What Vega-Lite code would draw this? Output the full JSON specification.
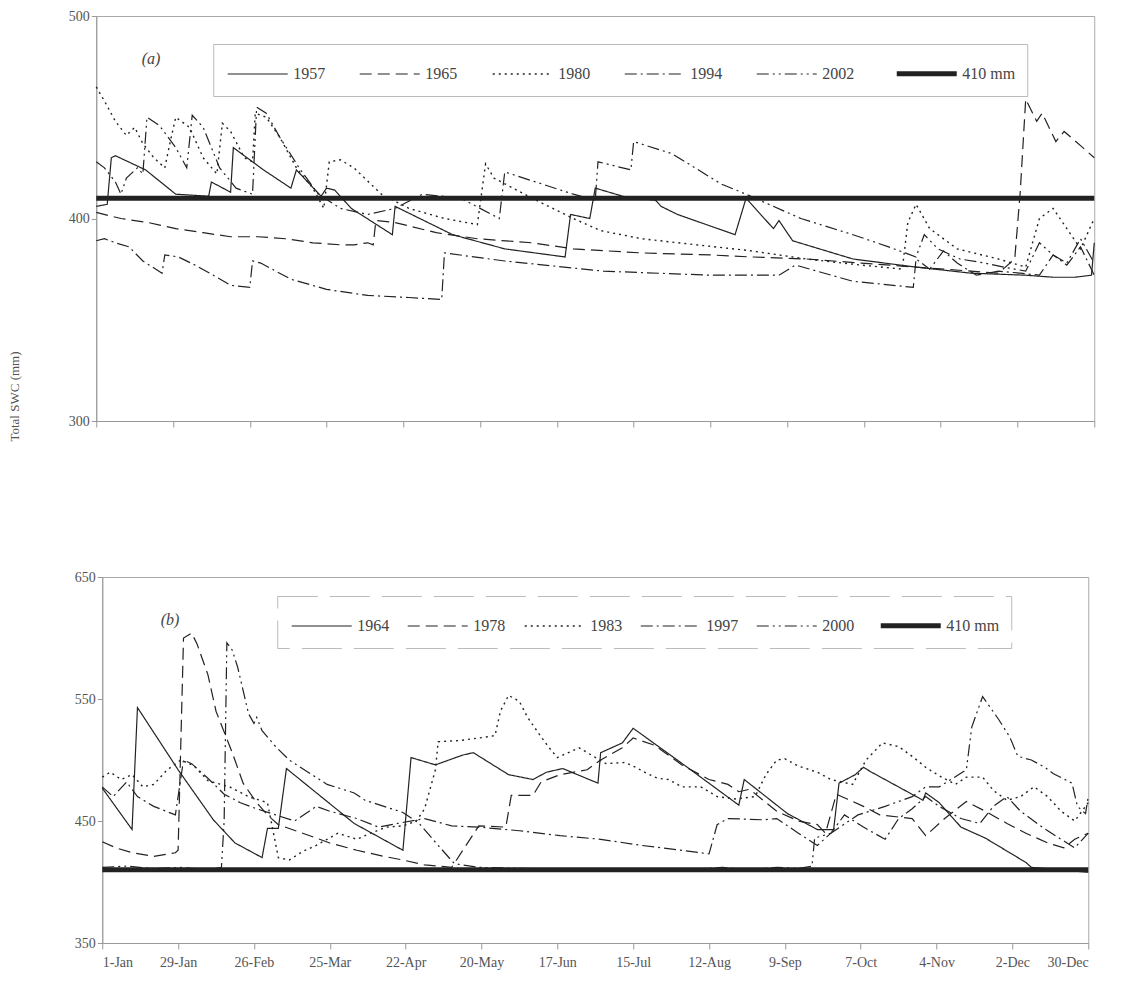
{
  "$schema": "https://vega.github.io/schema/vega-lite/v6.json",
  "background": "white",
  "padding": {"left": -38, "top": 8, "right": 5, "bottom": 5},
  "center": true,
  "spacing": 127,
  "datasets": {
    "a": [
      {"series":"1957","day":1,"swc":406},{"series":"1957","day":5,"swc":407},{"series":"1957","day":6.5,"swc":430},{"series":"1957","day":8,"swc":431},{"series":"1957","day":19,"swc":424},{"series":"1957","day":30,"swc":412},{"series":"1957","day":42,"swc":411},{"series":"1957","day":43,"swc":418},{"series":"1957","day":50,"swc":413},{"series":"1957","day":51,"swc":435},{"series":"1957","day":62,"swc":424},{"series":"1957","day":72,"swc":415},{"series":"1957","day":74,"swc":424},{"series":"1957","day":83,"swc":411},{"series":"1957","day":85,"swc":415},{"series":"1957","day":88,"swc":414},{"series":"1957","day":94,"swc":405},{"series":"1957","day":109,"swc":392},{"series":"1957","day":110,"swc":406},{"series":"1957","day":131,"swc":392},{"series":"1957","day":150,"swc":385},{"series":"1957","day":172,"swc":381},{"series":"1957","day":174,"swc":402},{"series":"1957","day":181,"swc":400},{"series":"1957","day":183,"swc":415},{"series":"1957","day":193,"swc":411},{"series":"1957","day":205,"swc":409},{"series":"1957","day":207,"swc":406},{"series":"1957","day":213,"swc":402},{"series":"1957","day":234,"swc":392},{"series":"1957","day":236,"swc":401},{"series":"1957","day":238,"swc":410},{"series":"1957","day":248,"swc":395},{"series":"1957","day":250,"swc":399},{"series":"1957","day":255,"swc":389},{"series":"1957","day":277,"swc":380},{"series":"1957","day":300,"swc":376},{"series":"1957","day":320,"swc":373},{"series":"1957","day":340,"swc":372},{"series":"1957","day":350,"swc":371},{"series":"1957","day":358,"swc":371},{"series":"1957","day":364,"swc":372},{"series":"1957","day":365,"swc":388},

      {"series":"1965","day":1,"swc":403},{"series":"1965","day":10,"swc":400},{"series":"1965","day":20,"swc":398},{"series":"1965","day":30,"swc":395},{"series":"1965","day":40,"swc":393},{"series":"1965","day":50,"swc":391},{"series":"1965","day":60,"swc":391},{"series":"1965","day":70,"swc":390},{"series":"1965","day":80,"swc":388},{"series":"1965","day":90,"swc":387},{"series":"1965","day":95,"swc":387},{"series":"1965","day":100,"swc":388},{"series":"1965","day":102,"swc":387},{"series":"1965","day":103,"swc":399},{"series":"1965","day":110,"swc":398},{"series":"1965","day":125,"swc":393},{"series":"1965","day":140,"swc":390},{"series":"1965","day":160,"swc":388},{"series":"1965","day":175,"swc":385},{"series":"1965","day":200,"swc":383},{"series":"1965","day":225,"swc":382},{"series":"1965","day":240,"swc":381},{"series":"1965","day":260,"swc":380},{"series":"1965","day":280,"swc":378},{"series":"1965","day":300,"swc":376},{"series":"1965","day":320,"swc":374},{"series":"1965","day":330,"swc":373},{"series":"1965","day":336,"swc":380},{"series":"1965","day":338,"swc":413},{"series":"1965","day":340,"swc":459},{"series":"1965","day":344,"swc":448},{"series":"1965","day":346,"swc":452},{"series":"1965","day":351,"swc":438},{"series":"1965","day":354,"swc":443},{"series":"1965","day":360,"swc":436},{"series":"1965","day":365,"swc":430},

      {"series":"1980","day":1,"swc":465},{"series":"1980","day":4,"swc":458},{"series":"1980","day":8,"swc":448},{"series":"1980","day":12,"swc":441},{"series":"1980","day":15,"swc":445},{"series":"1980","day":18,"swc":437},{"series":"1980","day":22,"swc":430},{"series":"1980","day":26,"swc":425},{"series":"1980","day":28,"swc":438},{"series":"1980","day":30,"swc":450},{"series":"1980","day":35,"swc":445},{"series":"1980","day":40,"swc":430},{"series":"1980","day":45,"swc":422},{"series":"1980","day":47,"swc":447},{"series":"1980","day":50,"swc":443},{"series":"1980","day":55,"swc":430},{"series":"1980","day":58,"swc":428},{"series":"1980","day":59,"swc":452},{"series":"1980","day":63,"swc":450},{"series":"1980","day":68,"swc":440},{"series":"1980","day":74,"swc":425},{"series":"1980","day":80,"swc":415},{"series":"1980","day":84,"swc":405},{"series":"1980","day":86,"swc":428},{"series":"1980","day":90,"swc":429},{"series":"1980","day":95,"swc":425},{"series":"1980","day":105,"swc":412},{"series":"1980","day":115,"swc":405},{"series":"1980","day":128,"swc":400},{"series":"1980","day":140,"swc":397},{"series":"1980","day":143,"swc":427},{"series":"1980","day":146,"swc":420},{"series":"1980","day":160,"swc":410},{"series":"1980","day":175,"swc":400},{"series":"1980","day":185,"swc":394},{"series":"1980","day":200,"swc":390},{"series":"1980","day":220,"swc":387},{"series":"1980","day":240,"swc":384},{"series":"1980","day":260,"swc":380},{"series":"1980","day":280,"swc":377},{"series":"1980","day":295,"swc":375},{"series":"1980","day":297,"swc":398},{"series":"1980","day":300,"swc":407},{"series":"1980","day":305,"swc":395},{"series":"1980","day":315,"swc":385},{"series":"1980","day":330,"swc":380},{"series":"1980","day":340,"swc":376},{"series":"1980","day":345,"swc":400},{"series":"1980","day":350,"swc":405},{"series":"1980","day":355,"swc":395},{"series":"1980","day":360,"swc":385},{"series":"1980","day":365,"swc":400},

      {"series":"1994","day":1,"swc":389},{"series":"1994","day":4,"swc":390},{"series":"1994","day":8,"swc":388},{"series":"1994","day":13,"swc":386},{"series":"1994","day":18,"swc":379},{"series":"1994","day":25,"swc":373},{"series":"1994","day":26,"swc":382},{"series":"1994","day":31,"swc":381},{"series":"1994","day":37,"swc":377},{"series":"1994","day":45,"swc":371},{"series":"1994","day":50,"swc":367},{"series":"1994","day":57,"swc":366},{"series":"1994","day":58,"swc":379},{"series":"1994","day":61,"swc":378},{"series":"1994","day":72,"swc":370},{"series":"1994","day":85,"swc":365},{"series":"1994","day":100,"swc":362},{"series":"1994","day":115,"swc":361},{"series":"1994","day":127,"swc":360},{"series":"1994","day":128,"swc":383},{"series":"1994","day":150,"swc":379},{"series":"1994","day":186,"swc":374},{"series":"1994","day":225,"swc":372},{"series":"1994","day":250,"swc":372},{"series":"1994","day":256,"swc":377},{"series":"1994","day":277,"swc":369},{"series":"1994","day":299,"swc":366},{"series":"1994","day":300,"swc":380},{"series":"1994","day":305,"swc":375},{"series":"1994","day":310,"swc":384},{"series":"1994","day":315,"swc":378},{"series":"1994","day":322,"swc":372},{"series":"1994","day":330,"swc":374},{"series":"1994","day":338,"swc":373},{"series":"1994","day":345,"swc":372},{"series":"1994","day":350,"swc":382},{"series":"1994","day":355,"swc":377},{"series":"1994","day":360,"swc":386},{"series":"1994","day":365,"swc":372},

      {"series":"2002","day":1,"swc":428},{"series":"2002","day":4,"swc":425},{"series":"2002","day":8,"swc":418},{"series":"2002","day":10,"swc":412},{"series":"2002","day":12,"swc":420},{"series":"2002","day":16,"swc":425},{"series":"2002","day":18,"swc":422},{"series":"2002","day":19.5,"swc":450},{"series":"2002","day":24,"swc":446},{"series":"2002","day":30,"swc":435},{"series":"2002","day":34,"swc":425},{"series":"2002","day":36,"swc":451},{"series":"2002","day":40,"swc":445},{"series":"2002","day":46,"swc":425},{"series":"2002","day":52,"swc":415},{"series":"2002","day":58,"swc":412},{"series":"2002","day":59.5,"swc":455},{"series":"2002","day":63,"swc":452},{"series":"2002","day":68,"swc":440},{"series":"2002","day":75,"swc":425},{"series":"2002","day":82,"swc":412},{"series":"2002","day":90,"swc":405},{"series":"2002","day":100,"swc":402},{"series":"2002","day":110,"swc":405},{"series":"2002","day":120,"swc":412},{"series":"2002","day":134,"swc":410},{"series":"2002","day":148,"swc":400},{"series":"2002","day":150,"swc":423},{"series":"2002","day":175,"swc":412},{"series":"2002","day":183,"swc":409},{"series":"2002","day":184,"swc":428},{"series":"2002","day":196,"swc":424},{"series":"2002","day":197,"swc":438},{"series":"2002","day":211,"swc":432},{"series":"2002","day":229,"swc":417},{"series":"2002","day":238,"swc":412},{"series":"2002","day":258,"swc":400},{"series":"2002","day":277,"swc":392},{"series":"2002","day":290,"swc":386},{"series":"2002","day":300,"swc":381},{"series":"2002","day":303,"swc":392},{"series":"2002","day":308,"swc":385},{"series":"2002","day":316,"swc":380},{"series":"2002","day":325,"swc":378},{"series":"2002","day":332,"swc":376},{"series":"2002","day":340,"swc":374},{"series":"2002","day":345,"swc":388},{"series":"2002","day":350,"swc":382},{"series":"2002","day":355,"swc":378},{"series":"2002","day":360,"swc":390},{"series":"2002","day":365,"swc":378},

      {"series":"410 mm","day":1,"swc":410},{"series":"410 mm","day":365,"swc":410}
    ],
    "b": [
      {"series":"1964","day":1,"swc":477},{"series":"1964","day":12,"swc":443},{"series":"1964","day":14,"swc":543},{"series":"1964","day":29,"swc":492},{"series":"1964","day":42,"swc":451},{"series":"1964","day":50,"swc":432},{"series":"1964","day":60,"swc":420},{"series":"1964","day":62,"swc":444},{"series":"1964","day":66,"swc":444},{"series":"1964","day":69,"swc":493},{"series":"1964","day":94,"swc":448},{"series":"1964","day":112,"swc":426},{"series":"1964","day":115,"swc":502},{"series":"1964","day":124,"swc":496},{"series":"1964","day":134,"swc":504},{"series":"1964","day":138,"swc":506},{"series":"1964","day":151,"swc":488},{"series":"1964","day":160,"swc":484},{"series":"1964","day":165,"swc":490},{"series":"1964","day":171,"swc":493},{"series":"1964","day":184,"swc":481},{"series":"1964","day":185,"swc":506},{"series":"1964","day":193,"swc":514},{"series":"1964","day":197,"swc":526},{"series":"1964","day":217,"swc":494},{"series":"1964","day":236,"swc":463},{"series":"1964","day":238,"swc":484},{"series":"1964","day":254,"swc":456},{"series":"1964","day":265,"swc":443},{"series":"1964","day":271,"swc":443},{"series":"1964","day":273,"swc":481},{"series":"1964","day":279,"swc":488},{"series":"1964","day":282,"swc":494},{"series":"1964","day":285,"swc":490},{"series":"1964","day":304,"swc":467},{"series":"1964","day":305,"swc":473},{"series":"1964","day":310,"swc":465},{"series":"1964","day":318,"swc":445},{"series":"1964","day":327,"swc":436},{"series":"1964","day":342,"swc":416},{"series":"1964","day":344,"swc":412},{"series":"1964","day":365,"swc":408},

      {"series":"1978","day":1,"swc":433},{"series":"1978","day":6,"swc":428},{"series":"1978","day":12,"swc":424},{"series":"1978","day":20,"swc":421},{"series":"1978","day":28,"swc":424},{"series":"1978","day":29,"swc":426},{"series":"1978","day":31,"swc":600},{"series":"1978","day":34,"swc":604},{"series":"1978","day":36,"swc":595},{"series":"1978","day":40,"swc":570},{"series":"1978","day":43,"swc":540},{"series":"1978","day":49,"swc":506},{"series":"1978","day":53,"swc":481},{"series":"1978","day":58,"swc":465},{"series":"1978","day":62,"swc":455},{"series":"1978","day":66,"swc":447},{"series":"1978","day":75,"swc":440},{"series":"1978","day":85,"swc":432},{"series":"1978","day":95,"swc":426},{"series":"1978","day":105,"swc":421},{"series":"1978","day":112,"swc":418},{"series":"1978","day":120,"swc":414},{"series":"1978","day":130,"swc":412},{"series":"1978","day":140,"swc":446},{"series":"1978","day":150,"swc":445},{"series":"1978","day":152,"swc":471},{"series":"1978","day":160,"swc":471},{"series":"1978","day":163,"swc":482},{"series":"1978","day":170,"swc":488},{"series":"1978","day":180,"swc":492},{"series":"1978","day":185,"swc":500},{"series":"1978","day":193,"swc":510},{"series":"1978","day":197,"swc":518},{"series":"1978","day":205,"swc":512},{"series":"1978","day":215,"swc":496},{"series":"1978","day":225,"swc":484},{"series":"1978","day":232,"swc":480},{"series":"1978","day":236,"swc":474},{"series":"1978","day":240,"swc":476},{"series":"1978","day":250,"swc":458},{"series":"1978","day":258,"swc":450},{"series":"1978","day":265,"swc":447},{"series":"1978","day":268,"swc":440},{"series":"1978","day":272,"swc":472},{"series":"1978","day":276,"swc":468},{"series":"1978","day":282,"swc":462},{"series":"1978","day":288,"swc":455},{"series":"1978","day":300,"swc":452},{"series":"1978","day":305,"swc":438},{"series":"1978","day":312,"swc":452},{"series":"1978","day":320,"swc":466},{"series":"1978","day":327,"swc":458},{"series":"1978","day":335,"swc":448},{"series":"1978","day":342,"swc":440},{"series":"1978","day":350,"swc":432},{"series":"1978","day":356,"swc":428},{"series":"1978","day":360,"swc":435},{"series":"1978","day":365,"swc":440},

      {"series":"1983","day":1,"swc":486},{"series":"1983","day":4,"swc":490},{"series":"1983","day":8,"swc":484},{"series":"1983","day":12,"swc":488},{"series":"1983","day":16,"swc":478},{"series":"1983","day":20,"swc":480},{"series":"1983","day":25,"swc":492},{"series":"1983","day":30,"swc":500},{"series":"1983","day":35,"swc":495},{"series":"1983","day":40,"swc":483},{"series":"1983","day":48,"swc":478},{"series":"1983","day":55,"swc":470},{"series":"1983","day":62,"swc":465},{"series":"1983","day":66,"swc":420},{"series":"1983","day":70,"swc":418},{"series":"1983","day":75,"swc":425},{"series":"1983","day":80,"swc":430},{"series":"1983","day":88,"swc":440},{"series":"1983","day":95,"swc":435},{"series":"1983","day":100,"swc":440},{"series":"1983","day":106,"swc":445},{"series":"1983","day":112,"swc":446},{"series":"1983","day":117,"swc":450},{"series":"1983","day":120,"swc":460},{"series":"1983","day":124,"swc":492},{"series":"1983","day":125,"swc":515},{"series":"1983","day":133,"swc":516},{"series":"1983","day":140,"swc":518},{"series":"1983","day":146,"swc":520},{"series":"1983","day":148,"swc":540},{"series":"1983","day":151,"swc":553},{"series":"1983","day":155,"swc":548},{"series":"1983","day":158,"swc":535},{"series":"1983","day":163,"swc":519},{"series":"1983","day":166,"swc":510},{"series":"1983","day":169,"swc":502},{"series":"1983","day":177,"swc":510},{"series":"1983","day":187,"swc":497},{"series":"1983","day":194,"swc":498},{"series":"1983","day":198,"swc":494},{"series":"1983","day":202,"swc":489},{"series":"1983","day":206,"swc":485},{"series":"1983","day":210,"swc":484},{"series":"1983","day":215,"swc":478},{"series":"1983","day":222,"swc":478},{"series":"1983","day":228,"swc":470},{"series":"1983","day":235,"swc":468},{"series":"1983","day":242,"swc":470},{"series":"1983","day":246,"swc":488},{"series":"1983","day":250,"swc":500},{"series":"1983","day":253,"swc":501},{"series":"1983","day":258,"swc":495},{"series":"1983","day":265,"swc":490},{"series":"1983","day":270,"swc":484},{"series":"1983","day":278,"swc":480},{"series":"1983","day":283,"swc":500},{"series":"1983","day":289,"swc":514},{"series":"1983","day":295,"swc":511},{"series":"1983","day":300,"swc":503},{"series":"1983","day":305,"swc":494},{"series":"1983","day":310,"swc":487},{"series":"1983","day":316,"swc":480},{"series":"1983","day":320,"swc":486},{"series":"1983","day":326,"swc":486},{"series":"1983","day":330,"swc":475},{"series":"1983","day":335,"swc":467},{"series":"1983","day":340,"swc":470},{"series":"1983","day":345,"swc":478},{"series":"1983","day":350,"swc":470},{"series":"1983","day":355,"swc":458},{"series":"1983","day":360,"swc":450},{"series":"1983","day":365,"swc":465},

      {"series":"1997","day":1,"swc":478},{"series":"1997","day":5,"swc":470},{"series":"1997","day":10,"swc":482},{"series":"1997","day":14,"swc":470},{"series":"1997","day":20,"swc":462},{"series":"1997","day":28,"swc":455},{"series":"1997","day":31,"swc":500},{"series":"1997","day":34,"swc":497},{"series":"1997","day":40,"swc":485},{"series":"1997","day":46,"swc":472},{"series":"1997","day":52,"swc":465},{"series":"1997","day":58,"swc":460},{"series":"1997","day":65,"swc":455},{"series":"1997","day":72,"swc":450},{"series":"1997","day":80,"swc":462},{"series":"1997","day":85,"swc":458},{"series":"1997","day":95,"swc":452},{"series":"1997","day":103,"swc":445},{"series":"1997","day":110,"swc":448},{"series":"1997","day":120,"swc":452},{"series":"1997","day":130,"swc":446},{"series":"1997","day":140,"swc":445},{"series":"1997","day":155,"swc":442},{"series":"1997","day":170,"swc":438},{"series":"1997","day":185,"swc":435},{"series":"1997","day":200,"swc":430},{"series":"1997","day":215,"swc":426},{"series":"1997","day":225,"swc":423},{"series":"1997","day":228,"swc":447},{"series":"1997","day":232,"swc":452},{"series":"1997","day":245,"swc":451},{"series":"1997","day":250,"swc":452},{"series":"1997","day":258,"swc":440},{"series":"1997","day":265,"swc":430},{"series":"1997","day":270,"swc":440},{"series":"1997","day":275,"swc":455},{"series":"1997","day":282,"swc":445},{"series":"1997","day":290,"swc":435},{"series":"1997","day":295,"swc":452},{"series":"1997","day":300,"swc":460},{"series":"1997","day":305,"swc":470},{"series":"1997","day":310,"swc":462},{"series":"1997","day":318,"swc":452},{"series":"1997","day":325,"swc":448},{"series":"1997","day":330,"swc":462},{"series":"1997","day":335,"swc":470},{"series":"1997","day":340,"swc":458},{"series":"1997","day":348,"swc":445},{"series":"1997","day":355,"swc":435},{"series":"1997","day":360,"swc":428},{"series":"1997","day":365,"swc":440},

      {"series":"2000","day":1,"swc":412},{"series":"2000","day":10,"swc":413},{"series":"2000","day":20,"swc":411},{"series":"2000","day":30,"swc":412},{"series":"2000","day":40,"swc":410},{"series":"2000","day":45,"swc":412},{"series":"2000","day":46,"swc":450},{"series":"2000","day":47,"swc":596},{"series":"2000","day":49,"swc":590},{"series":"2000","day":51,"swc":576},{"series":"2000","day":55,"swc":538},{"series":"2000","day":57,"swc":530},{"series":"2000","day":58,"swc":535},{"series":"2000","day":60,"swc":524},{"series":"2000","day":65,"swc":511},{"series":"2000","day":70,"swc":500},{"series":"2000","day":77,"swc":490},{"series":"2000","day":84,"swc":480},{"series":"2000","day":94,"swc":473},{"series":"2000","day":98,"swc":467},{"series":"2000","day":105,"swc":462},{"series":"2000","day":112,"swc":457},{"series":"2000","day":118,"swc":448},{"series":"2000","day":125,"swc":430},{"series":"2000","day":131,"swc":415},{"series":"2000","day":140,"swc":412},{"series":"2000","day":160,"swc":411},{"series":"2000","day":180,"swc":410},{"series":"2000","day":200,"swc":410},{"series":"2000","day":215,"swc":410},{"series":"2000","day":230,"swc":412},{"series":"2000","day":240,"swc":410},{"series":"2000","day":250,"swc":412},{"series":"2000","day":258,"swc":411},{"series":"2000","day":263,"swc":413},{"series":"2000","day":264,"swc":436},{"series":"2000","day":270,"swc":440},{"series":"2000","day":280,"swc":455},{"series":"2000","day":290,"swc":462},{"series":"2000","day":300,"swc":470},{"series":"2000","day":305,"swc":478},{"series":"2000","day":310,"swc":478},{"series":"2000","day":315,"swc":485},{"series":"2000","day":320,"swc":492},{"series":"2000","day":322,"swc":527},{"series":"2000","day":326,"swc":552},{"series":"2000","day":332,"swc":533},{"series":"2000","day":336,"swc":519},{"series":"2000","day":339,"swc":503},{"series":"2000","day":344,"swc":500},{"series":"2000","day":349,"swc":494},{"series":"2000","day":352,"swc":489},{"series":"2000","day":359,"swc":481},{"series":"2000","day":361,"swc":462},{"series":"2000","day":364,"swc":456},{"series":"2000","day":365,"swc":470},

      {"series":"410 mm","day":1,"swc":410},{"series":"410 mm","day":365,"swc":410}
    ],
    "labA": [{"day": 21, "swc": 479, "txt": "(a)"}],
    "labB": [{"day": 26, "swc": 615, "txt": "(b)"}]
  },
  "vconcat": [
    {
      "width": 998,
      "height": 405,
      "layer": [
        {
          "data": {"name": "a"},
          "mark": {"type": "line", "stroke": "#222", "interpolate": "linear"},
          "encoding": {
            "x": {"field": "day", "type": "quantitative",
                  "scale": {"domain": [1, 365], "nice": false, "zero": false},
                  "axis": {"values": [1,29,57,85,113,141,169,197,225,253,281,309,337,365], "labels": false, "title": null, "grid": false, "tickSize": 6, "tickColor": "#999", "domainColor": "#999"}},
            "y": {"field": "swc", "type": "quantitative",
                  "scale": {"domain": [300, 500], "nice": false, "zero": false},
                  "axis": {"values": [300, 400, 500], "grid": false, "title": "Total SWC (mm)", "titleFont": "Liberation Serif", "titleFontSize": 13, "titleFontWeight": "normal", "titleColor": "#555", "titleX": -75, "titleY": 380, "titleAngle": -90, "labelFont": "Liberation Serif", "labelFontSize": 14, "labelColor": "#555", "tickSize": 5, "tickColor": "#999", "domainColor": "#999"}},
            "strokeDash": {"field": "series", "type": "nominal",
                  "scale": {"domain": ["1957","1965","1980","1994","2002","410 mm"], "range": [[1,0],[12,6],[2,4],[12,4,2,4],[12,4,2,4,2,4],[1,0]]},
                  "legend": {"orient": "none", "legendX": 117, "legendY": 28, "direction": "horizontal", "columns": 6, "title": null, "symbolType": "M-1,0H3", "symbolSize": 900, "symbolStrokeColor": "#222", "symbolFillColor": "transparent", "labelFont": "Liberation Serif", "labelFontSize": 16, "labelColor": "#444", "labelOffset": 33, "columnPadding": 32, "strokeColor": "#bbb", "padding": 12}},
            "strokeWidth": {"field": "series", "type": "nominal",
                  "scale": {"type": "ordinal", "domain": ["1957","1965","1980","1994","2002","410 mm"], "range": [1.2,1.2,1.4,1.2,1.2,5]},
                  "legend": {"orient": "none", "legendX": 117, "legendY": 28, "direction": "horizontal", "columns": 6, "title": null, "symbolType": "M-1,0H3", "symbolSize": 900, "symbolStrokeColor": "#222", "symbolFillColor": "transparent", "labelFont": "Liberation Serif", "labelFontSize": 16, "labelColor": "#444", "labelOffset": 33, "columnPadding": 32, "strokeColor": "#bbb", "padding": 12}}
          }
        },
        {
          "data": {"name": "labA"},
          "mark": {"type": "text", "font": "Liberation Serif", "fontSize": 16, "fontStyle": "italic", "color": "#444"},
          "encoding": {
            "x": {"field": "day", "type": "quantitative"},
            "y": {"field": "swc", "type": "quantitative"},
            "text": {"field": "txt"}
          }
        }
      ]
    },
    {
      "width": 986,
      "height": 366,
      "layer": [
        {
          "data": {"name": "b"},
          "mark": {"type": "line", "stroke": "#222", "interpolate": "linear"},
          "encoding": {
            "x": {"field": "day", "type": "quantitative",
                  "scale": {"domain": [1, 365], "nice": false, "zero": false},
                  "axis": {"values": [1,29,57,85,113,141,169,197,225,253,281,309,337,365], "labelExpr": "timeFormat(datetime(2000,0,datum.value),'%-d-%b')", "title": null, "grid": false, "tickSize": 6, "tickColor": "#999", "domainColor": "#999", "labelFont": "Liberation Serif", "labelFontSize": 14, "labelColor": "#555", "labelPadding": 6}},
            "y": {"field": "swc", "type": "quantitative",
                  "scale": {"domain": [350, 650], "nice": false, "zero": false},
                  "axis": {"values": [350, 450, 550, 650], "grid": false, "title": null, "labelFont": "Liberation Serif", "labelFontSize": 14, "labelColor": "#555", "tickSize": 5, "tickColor": "#999", "domainColor": "#999", "minExtent": 139}},
            "strokeDash": {"field": "series", "type": "nominal",
                  "scale": {"domain": ["1964","1978","1983","1997","2000","410 mm"], "range": [[1,0],[12,6],[2,4],[12,4,2,4],[12,4,2,4,2,4],[1,0]]},
                  "legend": {"orient": "none", "legendX": 175, "legendY": 19, "direction": "horizontal", "columns": 6, "title": null, "symbolType": "M-1,0H3", "symbolSize": 900, "symbolStrokeColor": "#222", "symbolFillColor": "transparent", "labelFont": "Liberation Serif", "labelFontSize": 16, "labelColor": "#444", "labelOffset": 33, "columnPadding": 16, "strokeColor": "#bbb", "padding": 12, "encode": {"legend": {"update": {"strokeDash": {"value": [40, 12]}}}}}},
            "strokeWidth": {"field": "series", "type": "nominal",
                  "scale": {"type": "ordinal", "domain": ["1964","1978","1983","1997","2000","410 mm"], "range": [1.2,1.2,1.4,1.2,1.2,5]},
                  "legend": {"orient": "none", "legendX": 175, "legendY": 19, "direction": "horizontal", "columns": 6, "title": null, "symbolType": "M-1,0H3", "symbolSize": 900, "symbolStrokeColor": "#222", "symbolFillColor": "transparent", "labelFont": "Liberation Serif", "labelFontSize": 16, "labelColor": "#444", "labelOffset": 33, "columnPadding": 16, "strokeColor": "#bbb", "padding": 12, "encode": {"legend": {"update": {"strokeDash": {"value": [40, 12]}}}}}}
          }
        },
        {
          "data": {"name": "labB"},
          "mark": {"type": "text", "font": "Liberation Serif", "fontSize": 16, "fontStyle": "italic", "color": "#444"},
          "encoding": {
            "x": {"field": "day", "type": "quantitative"},
            "y": {"field": "swc", "type": "quantitative"},
            "text": {"field": "txt"}
          }
        }
      ]
    }
  ],
  "resolve": {
    "scale": {"strokeDash": "independent", "strokeWidth": "independent"},
    "legend": {"strokeDash": "independent", "strokeWidth": "independent"}
  },
  "config": {
    "view": {"stroke": "#aaa", "strokeWidth": 1},
    "font": "Liberation Serif"
  }
}
